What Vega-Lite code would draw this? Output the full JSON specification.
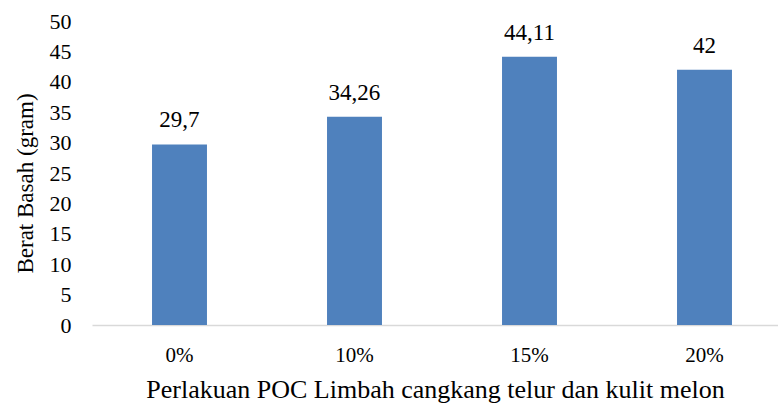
{
  "$schema": "https://vega.github.io/schema/vega-lite/v6.json",
  "width": 686,
  "height": 304,
  "autosize": "none",
  "padding": {"left": 92, "top": 21, "right": 0, "bottom": 80},
  "config": {"view": {"stroke": null}, "font": "Liberation Serif",
    "axis": {"labelFont": "Liberation Serif", "titleFont": "Liberation Serif"},
    "text": {"font": "Liberation Serif"}},
  "data": {"values": [
    {"perlakuan": "0%", "berat": 29.7, "label": "29,7"},
    {"perlakuan": "10%", "berat": 34.26, "label": "34,26"},
    {"perlakuan": "15%", "berat": 44.11, "label": "44,11"},
    {"perlakuan": "20%", "berat": 42, "label": "42"}
  ]},
  "encoding": {
    "x": {"field": "perlakuan", "type": "nominal", "sort": null,
      "scale": {"paddingInner": 0.686, "paddingOuter": 0.303, "align": 0.566},
      "axis": {"title": "Perlakuan POC Limbah cangkang telur dan kulit melon", "labelAngle": 0,
        "labelFont": "Liberation Serif", "titleFont": "Liberation Serif",
        "domainColor": "#d9d9d9", "domainWidth": 1.5, "ticks": false, "labelFontSize": 21, "labelColor": "#000000",
        "labelPadding": 19, "titleFontSize": 26, "titleFontWeight": "normal", "titleColor": "#000000", "titlePadding": 11}},
    "y": {"field": "berat", "type": "quantitative",
      "scale": {"domain": [0, 50], "nice": false},
      "axis": {"title": "Berat Basah (gram)", "values": [0,5,10,15,20,25,30,35,40,45,50], "grid": false, "domain": false, "ticks": false,
        "labelFont": "Liberation Serif", "titleFont": "Liberation Serif",
        "labelFontSize": 22, "labelColor": "#000000", "labelPadding": 21,
        "titleFontSize": 23, "titleFontWeight": "normal", "titleColor": "#000000", "titlePadding": 12, "titleY": 162}}
  },
  "layer": [
    {"mark": {"type": "bar", "color": "#4F81BD"}},
    {"mark": {"type": "text", "baseline": "alphabetic", "dy": -17, "fontSize": 23, "color": "#000000", "font": "Liberation Serif"},
     "encoding": {"text": {"field": "label"}}}
  ]
}
